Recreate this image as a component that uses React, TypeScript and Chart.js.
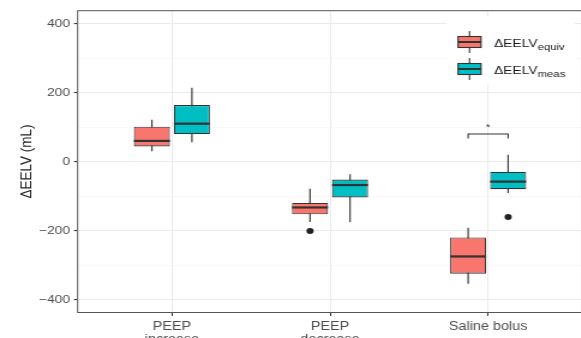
import React, { useEffect, useRef } from 'react';
import { Chart, registerables } from 'chart.js';

Chart.register(...registerables);

// ---- data ----
const categories: (string | string[])[] = [['PEEP', 'increase'], ['PEEP', 'decrease'], 'Saline bolus'];
const seriesLabels = ['equiv', 'meas'];
// [whiskerLow, q1, median, q3, whiskerHigh]
const equivStats = [
  [30, 44, 60, 101, 121],
  [-175, -153, -133, -120, -79],
  [-354, -325, -275, -220, -192],
];
const measStats = [
  [56, 80, 110, 164, 214],
  [-176, -104, -68, -52, -37],
  [-91, -80, -58, -30, 20],
];
const equivOutliers = [[], [-201], []];
const measOutliers = [[], [], [-161]];
const yTicks = [-400, -300, -200, -100, 0, 100, 200, 300, 400];
const yLabelTicks = [-400, -200, 0, 200, 400];
const significance = { category: 3, value: 80, tickDown: 67, label: '*' };

// ---- style ----
const colors = ['#F8766D', '#00BFC4'];
const FONT = "'Liberation Sans', Arial, sans-serif";
const STRETCH = 1.2; // the figure is horizontally stretched
const CAT_PCT = 0.506;
const BAR_PCT = 0.9;
const DODGE = CAT_PCT / 4;

const boxData = (stats: number[][]) => stats.map((s, i) => ({ x: i + 1, y: [s[1], s[3]] }));
const whiskerData = (stats: number[][]) => stats.map((s, i) => ({ x: i + 1, y: [s[0], s[4]] }));
const outlierData = (outs: number[][], off: number) =>
  outs.flatMap((vals, i) => vals.map((v) => ({ x: i + 1 + off, y: v })));

const sx = (px: number) => px / STRETCH;

const extras = {
  id: 'boxExtras',
  afterDatasetsDraw(chart: any) {
    const { ctx, chartArea, scales } = chart;
    const y = scales.y;
    const statsList = [equivStats, measStats];
    ctx.save();
    // medians
    statsList.forEach((stats, d) => {
      const meta = chart.getDatasetMeta(d);
      meta.data.forEach((el: any, i: number) => {
        const { x, width } = el.getProps(['x', 'width'], true);
        const py = y.getPixelForValue(stats[i][2]);
        ctx.beginPath();
        ctx.moveTo(x - width / 2, py);
        ctx.lineTo(x + width / 2, py);
        ctx.lineWidth = 2.2;
        ctx.strokeStyle = '#333333';
        ctx.stroke();
      });
    });
    // significance bracket
    const ci = significance.category - 1;
    const x0 = chart.getDatasetMeta(0).data[ci].x;
    const x1 = chart.getDatasetMeta(1).data[ci].x;
    const by = y.getPixelForValue(significance.value);
    const bt = y.getPixelForValue(significance.tickDown);
    ctx.beginPath();
    ctx.moveTo(x0, bt);
    ctx.lineTo(x0, by);
    ctx.lineTo(x1, by);
    ctx.lineTo(x1, bt);
    ctx.lineWidth = 1.1;
    ctx.strokeStyle = '#333333';
    ctx.stroke();
    ctx.fillStyle = '#333333';
    ctx.font = `9px ${FONT}`;
    ctx.textAlign = 'center';
    ctx.textBaseline = 'middle';
    ctx.fillText(significance.label, (x0 + x1) / 2, by - 6);
    // panel border
    ctx.strokeStyle = '#555555';
    ctx.lineWidth = 1;
    ctx.strokeRect(chartArea.left + 0.5, chartArea.top + 0.5, chartArea.width - 1, chartArea.height - 1);
    // legend
    ctx.fillStyle = '#ffffff';
    ctx.fillRect(sx(447), 16, sx(128), 68);
    seriesLabels.forEach((lab, i) => {
      const cy = 42 + i * 27;
      const kx = sx(458), kw = sx(23), kh = 11;
      ctx.strokeStyle = '#333333';
      ctx.lineWidth = 1.1;
      ctx.beginPath();
      ctx.moveTo(kx + kw / 2, cy - 11);
      ctx.lineTo(kx + kw / 2, cy + 11);
      ctx.stroke();
      ctx.fillStyle = colors[i];
      ctx.fillRect(kx, cy - kh / 2, kw, kh);
      ctx.strokeRect(kx, cy - kh / 2, kw, kh);
      ctx.lineWidth = 2;
      ctx.beginPath();
      ctx.moveTo(kx, cy);
      ctx.lineTo(kx + kw, cy);
      ctx.stroke();
      ctx.fillStyle = '#1a1a1a';
      ctx.textAlign = 'left';
      ctx.textBaseline = 'alphabetic';
      ctx.font = `11.5px ${FONT}`;
      const main = '\u0394EELV';
      const tx = sx(494);
      ctx.fillText(main, tx, cy + 4.5);
      const w = ctx.measureText(main).width;
      ctx.font = `9.5px ${FONT}`;
      ctx.fillText(lab, tx + w, cy + 7.5);
    });
    ctx.restore();
  },
};

const CANVAS_W = 500;

export default function App() {
  const ref = useRef<HTMLCanvasElement | null>(null);
  useEffect(() => {
    if (!ref.current) return;
    const barCommon = {
      categoryPercentage: CAT_PCT,
      barPercentage: BAR_PCT,
      borderSkipped: false,
    };
    const chart = new Chart(ref.current, {
      type: 'bar',
      data: {
        datasets: [
          { ...barCommon, label: 'equiv', stack: 'equiv', data: boxData(equivStats), backgroundColor: colors[0], borderColor: '#333333', borderWidth: 1.1 },
          { ...barCommon, label: 'meas', stack: 'meas', data: boxData(measStats), backgroundColor: colors[1], borderColor: '#333333', borderWidth: 1.1 },
          { ...barCommon, label: 'equiv-w', stack: 'equiv', data: whiskerData(equivStats), backgroundColor: '#333333', borderWidth: 0, maxBarThickness: 1.15 },
          { ...barCommon, label: 'meas-w', stack: 'meas', data: whiskerData(measStats), backgroundColor: '#333333', borderWidth: 0, maxBarThickness: 1.15 },
          { type: 'scatter', label: 'equiv-o', data: outlierData(equivOutliers, -DODGE), backgroundColor: '#222222', borderWidth: 0, pointRadius: 3 } as any,
          { type: 'scatter', label: 'meas-o', data: outlierData(measOutliers, DODGE), backgroundColor: '#222222', borderWidth: 0, pointRadius: 3 } as any,
        ] as any,
      },
      options: {
        responsive: false,
        animation: false,
        devicePixelRatio: 1,
        layout: { padding: { top: 9, right: CANVAS_W - sx(583), left: 0, bottom: 0 } },
        plugins: { legend: { display: false }, tooltip: { enabled: false } },
        scales: {
          x: {
            type: 'linear',
            min: 0.4,
            max: 3.6,
            offset: false,
            afterBuildTicks: (s: any) => { s.ticks = categories.map((_, i) => ({ value: i + 1 })); },
            afterFit: (s: any) => { s.height = 25; },
            ticks: {
              autoSkip: false,
              maxRotation: 0,
              minRotation: 0,
              padding: 4,
              color: '#4D4D4D',
              font: { family: FONT, size: 12, lineHeight: 1.1 },
              callback: (v: any) => categories[Number(v) - 1],
            },
            grid: { color: '#EBEBEB', lineWidth: 1, tickLength: 3, tickColor: '#333333', offset: false },
            border: { display: false },
          },
          y: {
            type: 'linear',
            min: -439,
            max: 439,
            stacked: false,
            afterBuildTicks: (s: any) => { s.ticks = yTicks.map((v) => ({ value: v })); },
            afterFit: (s: any) => { s.width = sx(77); },
            ticks: {
              autoSkip: false,
              padding: 3.3,
              color: '#4D4D4D',
              font: { family: FONT, size: 11.5 },
              callback: (v: any) => (yLabelTicks.includes(Number(v)) ? String(v).replace('-', '\u2212') : ''),
            },
            grid: {
              color: (c: any) => (yLabelTicks.includes(c.tick?.value) ? '#EBEBEB' : '#F4F4F4'),
              lineWidth: (c: any) => (yLabelTicks.includes(c.tick?.value) ? 1.1 : 0.6),
              tickLength: sx(3),
              tickColor: (c: any) => (yLabelTicks.includes(c.tick?.value) ? '#333333' : 'rgba(0,0,0,0)'),
            },
            border: { display: false },
            title: {
              display: true,
              text: '\u0394EELV (mL)',
              color: '#222222',
              font: { family: FONT, size: 13.5 },
              padding: { top: 14.3, bottom: 0 },
            },
          },
        },
      } as any,
      plugins: [extras],
    });
    return () => chart.destroy();
  }, []);
  return (
    <div style={{ position: 'fixed', left: 0, top: 0, width: 581, height: 338, overflow: 'hidden', background: '#fff' }}>
      <div style={{ transform: `scaleX(${STRETCH})`, transformOrigin: '0 0', width: CANVAS_W, height: 338 }}>
        <canvas ref={ref} width={CANVAS_W} height={338} style={{ display: 'block', width: CANVAS_W, height: 338 }} />
      </div>
    </div>
  );
}
